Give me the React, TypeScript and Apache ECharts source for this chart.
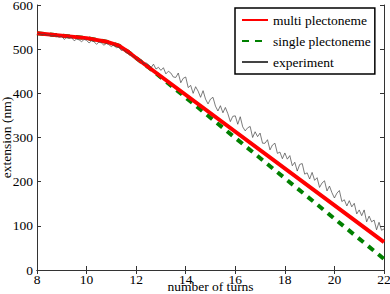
import React, { useEffect, useRef } from "react";
import * as echarts from "echarts";

const multiX = [8, 10, 10.8, 11.3, 11.7, 12, 22];
const multiY = [536, 525, 517, 508, 493, 480, 63];
const singleX = [8, 10, 10.8, 11.3, 11.7, 12, 12.5, 22];
const singleY = [536, 525, 517, 508, 493, 480, 459, 25];

const expStart = 8;
const expStep = 0.1;
const expY = [
  536, 535, 533, 534, 532, 532, 530, 531, 529, 527,
  529, 522, 527, 525, 526, 519, 523, 521, 517, 522,
  520, 514, 519, 517, 511, 516, 514, 509, 513, 510,
  506, 510, 503, 505, 497, 499, 493, 490, 487, 483,
  478, 474, 476, 466, 469, 465, 458, 466, 455, 459,
  452, 458, 444, 450, 446, 437, 436, 446, 424, 434,
  437, 413, 418, 400, 415, 405, 391, 406, 387, 376,
  387, 391, 371, 360, 372, 356, 368, 354, 336, 348,
  349, 330, 347, 324, 315, 322, 325, 300, 313, 302,
  310, 287, 287, 295, 272, 283, 287, 264, 267, 252,
  265, 251, 259, 236, 244, 224, 239, 241, 217, 220,
  206, 221, 203, 209, 187, 197, 202, 179, 190, 175,
  163, 174, 180, 155, 159, 145, 157, 143, 151, 127,
  136, 123, 136, 109, 122, 109, 113, 91, 108, 90,
  93,
];

const xTicks = { min: 8, max: 22, interval: 2 };
const yTicks = { min: 0, max: 600, interval: 100 };

const FONT = "Liberation Serif";

export default function App() {
  const ref = useRef<HTMLDivElement>(null);
  useEffect(() => {
    if (!ref.current) return;
    const chart = echarts.init(ref.current, undefined, { renderer: "svg" });
    const multi = multiX.map((x, i) => [x, multiY[i]]);
    const single = singleX.map((x, i) => [x, singleY[i]]);
    const exp = expY.map((v, i) => [+(expStart + i * expStep).toFixed(2), v]);
    const axisColor = "#333";
    const tick = { show: true, inside: true, length: 4, lineStyle: { color: axisColor, width: 1 } };
    const txt = { fontFamily: FONT, fontSize: 14, color: "#000" };
    chart.setOption({
      animation: false,
      grid: { left: 37, top: 5, right: 6, bottom: 24, containLabel: false, outerBoundsMode: "none" },
      legend: {
        orient: "vertical",
        left: 235,
        top: 8,
        itemWidth: 26,
        itemHeight: 14,
        itemGap: 7,
        padding: [5, 4, 5, 6],
        borderColor: "#000",
        borderWidth: 1.5,
        backgroundColor: "#fff",
        itemStyle: { opacity: 0 },
        textStyle: { ...txt, fontSize: 13.5 },
        data: ["multi plectoneme", "single plectoneme", "experiment"],
      },
      xAxis: [
        {
          type: "value",
          ...xTicks,
          name: "number of turns",
          nameLocation: "middle",
          nameGap: 10,
          nameMoveOverlap: false,
          nameTextStyle: { ...txt, fontSize: 13.5, lineHeight: 13 },
          axisLine: { show: true, lineStyle: { color: axisColor, width: 1 } },
          axisTick: tick,
          axisLabel: { ...txt, fontSize: 13.5, lineHeight: 12, margin: 3 },
          splitLine: { show: false },
        },
        {
          type: "value",
          position: "top",
          ...xTicks,
          axisLine: { show: true, lineStyle: { color: axisColor, width: 1 } },
          axisTick: tick,
          axisLabel: { show: false },
          splitLine: { show: false },
        },
      ],
      yAxis: [
        {
          type: "value",
          ...yTicks,
          name: "extension (nm)",
          nameLocation: "middle",
          nameGap: 24,
          nameMoveOverlap: false,
          nameTextStyle: { ...txt, fontSize: 13.5, lineHeight: 13 },
          axisLine: { show: true, lineStyle: { color: axisColor, width: 1 } },
          axisTick: tick,
          axisLabel: { ...txt, fontSize: 13.5, margin: 4 },
          splitLine: { show: false },
        },
        {
          type: "value",
          position: "right",
          ...yTicks,
          axisLine: { show: true, lineStyle: { color: axisColor, width: 1 } },
          axisTick: tick,
          axisLabel: { show: false },
          splitLine: { show: false },
        },
      ],
      series: [
        {
          name: "multi plectoneme",
          type: "line",
          data: multi,
          symbol: "none",
          z: 3,
          lineStyle: { color: "#ff0000", width: 4 },
          itemStyle: { color: "#ff0000" },
        },
        {
          name: "single plectoneme",
          type: "line",
          data: single,
          symbol: "none",
          z: 2,
          lineStyle: { color: "#008000", width: 4, type: [7, 6] },
          itemStyle: { color: "#008000" },
        },
        {
          name: "experiment",
          type: "line",
          data: exp,
          symbol: "none",
          z: 4,
          lineStyle: { color: "#444", width: 0.7 },
          itemStyle: { color: "#888" },
        },
      ],
    });
    return () => chart.dispose();
  }, []);
  return (
    <div
      ref={ref}
      style={{ position: "fixed", left: 0, top: 0, width: 390, height: 294, background: "#fff" }}
    />
  );
}
